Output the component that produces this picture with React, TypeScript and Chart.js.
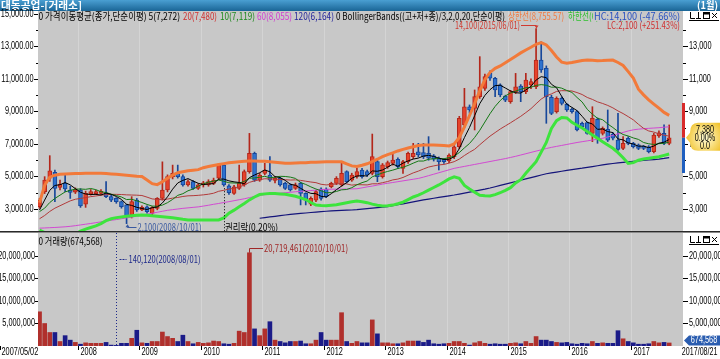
import React, { useEffect, useRef } from 'react';
import { Chart, registerables } from 'chart.js';

Chart.register(...registerables);

// ---------------- data (monthly, 2007/05 .. 2017/08) ----------------
const firstDate = '2007/05/02';
const lastDate = '2017/08/21';
const yearLabels = ['2008', '2009', '2010', '2011', '2012', '2013', '2014', '2015', '2016', '2017'];
const yearFirstIndex = [8, 20, 32, 44, 56, 68, 80, 92, 104, 116];

const open = [
  3150, 4070, 4890, 5250, 4330, 4580, 4170, 4030, 4170, 3300,
  3920, 3950, 3960, 4000, 3760, 3650, 3450, 3250, 2630, 3550,
  2950, 3140, 2730, 3040, 3650, 4170, 4990, 5230, 4990, 4480,
  4680, 4270, 4480, 4480, 4580, 4890, 5700, 4430, 3960, 4270,
  4480, 5300, 6420, 4780, 5190, 5090, 4750, 4890, 4580, 4480,
  4270, 4580, 3960, 3300, 3550, 4220, 4220, 4370, 4580, 4480,
  5300, 4780, 5000, 5400, 5300, 5190, 5910, 4990, 5600, 5800,
  6060, 5500, 5910, 6220, 6520, 6470, 6420, 6270, 6120, 6060,
  5960, 6220, 6830, 8170, 9290, 9190, 9910, 10420, 11340, 11040,
  10630, 9950, 9600, 10220, 10560, 10220, 10630, 10520, 12160, 11650,
  9870, 8990, 9810, 9440, 9130, 8990, 8270, 8310, 7650, 8510,
  7650, 7900, 7610, 7240, 6730, 7350, 7040, 6940, 6830, 6830,
  6530, 7490, 7650, 7040,
];
const high = [
  3650, 4990, 6280, 5400, 4780, 5150, 4400, 4300, 4250, 4100,
  4200, 4150, 4200, 4680, 3850, 3700, 3500, 3300, 3760, 3650,
  3200, 3200, 3150, 3700, 5900, 5100, 5700, 5700, 5100, 4800,
  4750, 4550, 4700, 4800, 4900, 5800, 5800, 4500, 4450, 5700,
  5400, 7650, 6500, 5200, 5810, 6220, 5000, 4950, 4650, 4550,
  4600, 4650, 4000, 3750, 4150, 4300, 4300, 4650, 4990, 5900,
  5350, 5200, 5500, 5500, 5400, 7610, 6000, 5800, 5950, 6420,
  6150, 6000, 6500, 7040, 7040, 7040, 7450, 6350, 6200, 6100,
  6400, 6900, 8700, 10420, 9400, 10320, 12370, 11300, 11500, 11100,
  10700, 10000, 10300, 11340, 10650, 11340, 11000, 14100, 13290, 11800,
  10000, 9900, 9900, 9500, 9200, 9050, 8350, 8350, 9290, 8600,
  8050, 9090, 7700, 8880, 7450, 7450, 7100, 7000, 6900, 6900,
  7650, 7800, 8170, 8170,
];
const low = [
  3050, 3950, 4700, 3450, 4170, 4070, 3650, 3950, 3100, 3100,
  3850, 3900, 3900, 3700, 3450, 3350, 3050, 2100, 2450, 2850,
  2900, 2750, 2650, 2950, 3550, 4050, 4850, 4900, 4400, 4400,
  4200, 4200, 4350, 4400, 4500, 4800, 4400, 3900, 3900, 4200,
  4400, 5200, 4700, 4700, 5100, 4700, 4600, 4400, 4200, 4100,
  4200, 3250, 3250, 3200, 3450, 3550, 3700, 4300, 4500, 4400,
  4600, 4700, 4900, 4900, 5000, 5100, 4680, 4900, 5500, 5700,
  5500, 5190, 5800, 6100, 6200, 6100, 6000, 5950, 5400, 5800,
  5850, 6100, 6700, 8000, 8900, 7860, 9800, 10300, 10900, 9910,
  9900, 9600, 9500, 10100, 9600, 10100, 10400, 10400, 11400, 8270,
  8800, 8900, 9400, 9000, 8900, 7800, 7950, 7600, 7140, 7040,
  7550, 7150, 7250, 6600, 6650, 6950, 6750, 6650, 6650, 6450,
  6450, 7400, 6950, 6950,
];
const close = [
  3550, 4780, 5340, 4270, 4520, 4230, 4020, 4200, 3190, 3960,
  4070, 4070, 4030, 3760, 3550, 3450, 3140, 2530, 3450, 2940,
  3100, 2840, 3080, 3650, 4170, 4990, 5190, 4990, 4480, 4680,
  4270, 4480, 4580, 4680, 4780, 5700, 4480, 4000, 4370, 4580,
  5300, 6420, 4780, 5090, 5400, 4780, 4890, 4480, 4270, 4170,
  4480, 3960, 3550, 3650, 4070, 3650, 3760, 4580, 4890, 5190,
  4680, 5090, 5300, 4990, 5090, 6220, 4990, 5710, 5850, 6010,
  5600, 5910, 6420, 6420, 6320, 6220, 6120, 6060, 5910, 5910,
  6320, 6830, 8580, 9290, 9100, 9910, 10520, 11140, 11040, 10320,
  10010, 9700, 10220, 10520, 10220, 10930, 10830, 12160, 11550, 9910,
  8880, 9810, 9500, 9090, 8990, 7860, 8060, 7650, 8580, 7350,
  7960, 7240, 7350, 6670, 7040, 7040, 6830, 6730, 6730, 6530,
  7550, 7690, 7040, 7380,
];
const volume = [
  7600000, 5000000, 3000000, 3000000, 1000000, 2300000, 1300000, 800000, 400000, 700000,
  600000, 600000, 600000, 800000, 200000, 140120, 600000, 600000, 1700000, 3500000,
  700000, 600000, 1000000, 1000000, 3100000, 2100000, 1700000, 1000000, 2400000, 1000000,
  500000, 800000, 600000, 700000, 1100000, 1000000, 500000, 400000, 600000, 3300000,
  3000000, 20719461, 3800000, 2300000, 3800000, 5400000, 1300000, 1000000, 700000, 1000000,
  1000000, 1100000, 500000, 500000, 1300000, 3000000, 1300000, 1300000, 1300000, 7400000,
  1000000, 600000, 1000000, 700000, 700000, 5800000, 2700000, 700000, 700000, 500000,
  500000, 700000, 1100000, 1100000, 1100000, 800000, 1300000, 500000, 400000, 500000,
  600000, 1000000, 1000000, 600000, 200000, 700000, 1000000, 600000, 400000, 500000,
  400000, 400000, 600000, 700000, 500000, 1000000, 600000, 2100000, 1300000, 1300000,
  1000000, 800000, 700000, 800000, 500000, 400000, 600000, 500000, 1000000, 600000,
  700000, 600000, 600000, 3400000, 1600000, 1000000, 700000, 400000, 400000, 500000,
  1000000, 700000, 800000, 674568,
];
const ma5 = [
  2940, 3550, 4150, 4450, 4490, 4630, 4480, 4250, 4030, 3920,
  3890, 3900, 3860, 3980, 3900, 3770, 3590, 3290, 3220, 3100,
  3030, 2970, 3080, 3120, 3370, 3750, 4220, 4600, 4760, 4870,
  4720, 4580, 4500, 4540, 4560, 4840, 4840, 4730, 4670, 4630,
  4550, 4930, 5090, 5230, 5400, 5290, 4990, 4930, 4760, 4520,
  4460, 4270, 4090, 3960, 3940, 3780, 3740, 3940, 4190, 4410,
  4620, 4890, 5030, 5050, 5030, 5340, 5320, 5400, 5570, 5760,
  5630, 5820, 5960, 6070, 6130, 6260, 6300, 6230, 6130, 6040,
  6060, 6210, 6710, 7390, 8020, 8740, 9480, 9990, 10340, 10590,
  10610, 10440, 10260, 10150, 10130, 10320, 10540, 10930, 11140, 11080,
  10670, 10460, 9930, 9440, 9250, 9050, 8700, 8330, 8230, 7900,
  7920, 7760, 7700, 7310, 7250, 7070, 6990, 6860, 6870, 6770,
  6870, 7050, 7110, 7272,
];
const ma10 = [
  2840, 3050, 3400, 3650, 3850, 4050, 4150, 4220, 4230, 4210,
  4260, 4190, 4060, 4010, 3910, 3830, 3740, 3580, 3600, 3500,
  3400, 3280, 3180, 3170, 3240, 3390, 3590, 3840, 3940, 4120,
  4230, 4400, 4550, 4650, 4710, 4780, 4710, 4610, 4600, 4590,
  4700, 4890, 4910, 4950, 5010, 4920, 4960, 5010, 5000, 4960,
  4880, 4630, 4510, 4360, 4230, 4120, 4000, 4010, 4080, 4180,
  4200, 4310, 4490, 4620, 4720, 4980, 5100, 5220, 5310, 5390,
  5490, 5570, 5680, 5820, 5950, 5950, 6060, 6090, 6100, 6090,
  6160, 6250, 6470, 6760, 7030, 7400, 7840, 8350, 8860, 9310,
  9670, 9960, 10130, 10250, 10360, 10460, 10490, 10600, 10650, 10610,
  10490, 10500, 10430, 10290, 10170, 9860, 9580, 9130, 8830, 8580,
  8490, 8230, 8010, 7770, 7580, 7490, 7370, 7280, 7090, 7010,
  6970, 7020, 7040, 7119,
];
const ma20 = [
  2400, 2600, 2850, 3050, 3200, 3350, 3500, 3600, 3650, 3700,
  3760, 3800, 3850, 3880, 3900, 3900, 3890, 3870, 3860, 3850,
  3830, 3730, 3620, 3590, 3570, 3610, 3670, 3710, 3770, 3810,
  3820, 3840, 3870, 3910, 3970, 4090, 4150, 4230, 4270, 4360,
  4470, 4640, 4730, 4800, 4860, 4850, 4840, 4810, 4800, 4780,
  4790, 4760, 4710, 4660, 4620, 4520, 4480, 4510, 4540, 4570,
  4540, 4470, 4500, 4490, 4480, 4550, 4550, 4620, 4690, 4790,
  4840, 4940, 5080, 5220, 5330, 5460, 5580, 5650, 5710, 5740,
  5820, 5910, 6070, 6290, 6490, 6670, 6950, 7220, 7480, 7700,
  7920, 8110, 8300, 8500, 8700, 8930, 9170, 9470, 9760, 9960,
  10080, 10230, 10280, 10270, 10260, 10160, 10040, 9860, 9740, 9590,
  9490, 9370, 9220, 9030, 8870, 8680, 8480, 8210, 7960, 7800,
  7730, 7620, 7540, 7480,
];
const ma60 = [
  1820, 1835, 1850, 1865, 1885, 1905, 1935, 1975, 2020, 2065,
  2110, 2160, 2210, 2260, 2305, 2350, 2400, 2450, 2500, 2560,
  2620, 2680, 2740, 2800, 2860, 2920, 2960, 3000, 3040, 3070,
  3100, 3130, 3180, 3230, 3290, 3340, 3400, 3450, 3510, 3570,
  3630, 3700, 3770, 3840, 3880, 3910, 3940, 3970, 4000, 4030,
  4060, 4085, 4110, 4135, 4160, 4185, 4210, 4215, 4220, 4225,
  4230, 4235, 4245, 4300, 4360, 4410, 4470, 4530, 4580, 4630,
  4680, 4730, 4780, 4830, 4880, 4960, 5050, 5140, 5230, 5320,
  5410, 5500, 5560, 5620, 5680, 5740, 5800, 5860, 5920, 5980,
  6040, 6100, 6170, 6240, 6320, 6400, 6480, 6560, 6640, 6720,
  6790, 6850, 6910, 6970, 7030, 7090, 7140, 7190, 7240, 7290,
  7350, 7430, 7530, 7620, 7710, 7800, 7870, 7910, 7940, 7960,
  7980, 8000, 8030, 8055,
];
const ma120Start = 43;
const ma120 = [
  2430, 2470, 2510, 2550, 2590, 2630, 2665,
  2695, 2725, 2755, 2785, 2810, 2835, 2860, 2880, 2895, 2910,
  2925, 2940, 2960, 2990, 3020, 3050, 3080, 3110, 3140, 3200,
  3260, 3320, 3380, 3440, 3500, 3560, 3610, 3660, 3710, 3760,
  3810, 3860, 3920, 3980, 4040, 4100, 4160, 4220, 4290, 4370,
  4450, 4530, 4610, 4690, 4770, 4850, 4930, 5010, 5090, 5170,
  5220, 5270, 5320, 5370, 5420, 5470, 5510, 5560, 5610, 5660,
  5710, 5760, 5800, 5840, 5870, 5900, 5930, 5960, 5990, 6015,
  6040, 6070, 6110, 6164,
];
const bbUpper = [
  3390, 4460, 4960, 5080, 5130, 5150, 5170, 5180, 5190, 5200,
  5200, 5200, 5195, 5180, 5160, 5140, 5110, 5080, 5050, 5020,
  5000, 4780, 4560, 4500, 4680, 4890, 5080, 5230, 5290, 5355,
  5390, 5420, 5540, 5610, 5680, 5740, 5790, 5840, 5880, 5910,
  5930, 5950, 5950, 5940, 5930, 5910, 5880, 5850, 5820, 5810,
  5830, 5840, 5850, 5870, 5880, 5895, 5905, 5910, 5910, 5900,
  5780, 5650, 5610, 5690, 5780, 5920, 6060, 6216, 6340, 6450,
  6570, 6670, 6750, 6830, 6910, 6936, 6936, 6936, 6920, 6900,
  6880, 7000, 7400, 8050, 8750, 9480, 10270, 10950, 11400, 11650,
  11800, 12000, 12200, 12400, 12600, 12780, 12950, 13130, 13230, 13090,
  12750, 12350, 12030, 11960, 12010, 12070, 12130, 12170, 12150, 12125,
  12130, 12150, 12160, 12010, 11830, 11450, 11050, 10370, 10020, 9710,
  9450, 9200, 8940, 8756,
];
const bbLower = [
  1700, 1550, 1400, 1300, 1250, 1250, 1300, 1450, 1640, 1760,
  1860, 1960, 2100, 2280, 2400, 2470, 2510, 2550, 2590, 2615,
  2630, 2610, 2580, 2550, 2520, 2490, 2460, 2420, 2370, 2330,
  2325, 2325, 2325, 2325, 2325, 2325, 2450, 2740, 2930, 3140,
  3340, 3560, 3740, 3890, 3930, 3960, 3950, 3930, 3910, 3850,
  3780, 3680, 3580, 3400, 3246, 3220, 3203, 3230, 3260, 3320,
  3380, 3440, 3490, 3450, 3390, 3300, 3230, 3185, 3200, 3240,
  3320, 3420, 3580, 3740, 3850, 4000, 4160, 4320, 4480, 4660,
  4850, 4980, 4888, 4450, 4230, 4030, 3850, 3820, 3800, 3880,
  4000, 4150, 4310, 4600, 4800, 5196, 5550, 5909, 6500, 7090,
  7950, 8430, 8630, 8600, 8330, 8150, 7980, 7770, 7551, 7350,
  7139, 6940, 6733, 6470, 6150, 5800, 5850, 6000, 6070, 6118,
  6170, 6216, 6300, 6383,
];

const priceTicks = [3000, 5000, 7000, 9000, 11000, 13000, 15000];
const priceMinorTicks = [4000, 6000, 8000, 10000, 12000, 14000];
const volumeTicks = [5000000, 10000000, 15000000, 20000000];
const lastPrice = 7380;
const rangeHigh = 9520;
const rangeLow = 5215;
const lowMarkIndex = 17;
const lowMarkValue = 2100;
const highMarkIndex = 97;
const highMarkValue = 14100;
const rightsIndex = 36;
const minVolIndex = 15;
const maxVolIndex = 41;

// ---------------- layout / style ----------------
const W = 720;
const PRICE_H = 232;
const VOL_H = 127;
const PANE_BG = '#c8c8c8';
const GRID = '#d4d4d4';
const KR = "'Noto Sans CJK KR', 'Noto Sans', sans-serif";
const NUM = "'Liberation Sans', Arial, sans-serif";
const NUM_SX = 0.7;
const UP_FILL = '#e6432b';
const UP_LINE = '#b3261a';
const DN_FILL = '#2e72cf';
const DN_LINE = '#17479a';
const VOL_UP = '#b0302c';
const VOL_DN = '#1b1b88';

const X_MIN = -0.3;
const X_MAX = 125.7;
const P_MIN = 1647;
const P_MAX = 15177;
const V_MAX = 25110000;

const fmt = (v: number, d: number) =>
  v.toLocaleString('en-US', { minimumFractionDigits: d, maximumFractionDigits: d });

function txt(ctx: any, s: string, x: number, y: number, o: any = {}) {
  const size = o.size ?? 10;
  ctx.save();
  ctx.font = `${o.bold ? 'bold ' : ''}${size}px ${o.font ?? NUM}`;
  const w = ctx.measureText(s).width;
  const sx = o.width ? o.width / w : (o.sx ?? 1);
  const dw = w * sx;
  let left = x;
  if (o.align === 'right') left = x - dw;
  else if (o.align === 'center') left = x - dw / 2;
  if (o.bg) {
    ctx.fillStyle = o.bg;
    ctx.fillRect(left - 1, y - 5, dw + 2, 10);
  }
  ctx.translate(left, y);
  ctx.scale(sx, 1);
  ctx.fillStyle = o.color ?? '#000';
  ctx.textAlign = 'left';
  ctx.textBaseline = 'middle';
  ctx.fillText(s, 0, 0);
  ctx.restore();
  return left + dw;
}
function hline(ctx: any, x1: number, x2: number, y: number) {
  ctx.beginPath(); ctx.moveTo(x1, y); ctx.lineTo(x2, y); ctx.stroke();
}
function vline(ctx: any, x: number, y1: number, y2: number) {
  ctx.beginPath(); ctx.moveTo(x, y1); ctx.lineTo(x, y2); ctx.stroke();
}
function drawIcons(ctx: any, top: number) {
  ctx.save();
  ctx.strokeStyle = '#000';
  ctx.fillStyle = '#000';
  ctx.lineWidth = 1;
  ctx.beginPath();
  ctx.moveTo(690.5, top); ctx.lineTo(690.5, top + 6.5); ctx.lineTo(695, top + 6.5);
  ctx.moveTo(698.5, top); ctx.lineTo(698.5, top + 6.5);
  ctx.moveTo(696, top + 6.5); ctx.lineTo(701, top + 6.5);
  ctx.stroke();
  ctx.strokeRect(703.5, top + 0.5, 6, 6);
  ctx.fillRect(703.5, top + 0.5, 6, 2);
  ctx.beginPath();
  ctx.moveTo(712, top + 1); ctx.lineTo(717, top + 6);
  ctx.moveTo(717, top + 1); ctx.lineTo(712, top + 6);
  ctx.stroke();
  ctx.beginPath(); ctx.moveTo(689, top + 8.5); ctx.lineTo(719, top + 8.5); ctx.stroke();
  ctx.restore();
}
function paneBackground(chart: any) {
  const { ctx, chartArea: a } = chart;
  const xs = chart.scales.x;
  ctx.save();
  ctx.fillStyle = '#ffffff';
  ctx.fillRect(0, 0, chart.width, chart.height);
  ctx.fillStyle = PANE_BG;
  ctx.fillRect(a.left, a.top, a.right - a.left, a.bottom - a.top);
  ctx.strokeStyle = GRID;
  ctx.lineWidth = 1;
  for (const fi of yearFirstIndex) {
    const px = Math.round(xs.getPixelForValue(fi - 0.5)) + 0.5;
    vline(ctx, px, a.top, a.bottom);
  }
  ctx.restore();
}

const pricePlugin = {
  id: 'pricePane',
  beforeDraw(chart: any) { paneBackground(chart); },
  afterDraw(chart: any) {
    const { ctx, chartArea: a } = chart;
    const xs = chart.scales.x;
    const ys = chart.scales.y;
    const X = (i: number) => xs.getPixelForValue(i);
    const Y = (v: number) => ys.getPixelForValue(v);
    ctx.save();
    // title bar
    const g = ctx.createLinearGradient(0, 0, 0, 11);
    g.addColorStop(0, '#4a9fd2');
    g.addColorStop(1, '#1a6596');
    ctx.fillStyle = g;
    ctx.fillRect(0, 0, W, 11);
    txt(ctx, '대동공업-[거래소]', 1, 5.5, { font: KR, bold: true, size: 10, color: '#ffffff', width: 81 });
    txt(ctx, '(1월)', 718, 5.5, { font: KR, bold: true, size: 10, color: '#ffffff', align: 'right', width: 21 });

    // axes
    ctx.strokeStyle = '#000';
    ctx.lineWidth = 1;
    for (const v of priceTicks) {
      const y = Math.round(Y(v)) + 0.5;
      hline(ctx, 34, 38, y);
      txt(ctx, fmt(v, 2), 33.5, y, { align: 'right', size: 10.5, sx: NUM_SX });
      if (v <= 13000) {
        hline(ctx, 683, 688, y);
        txt(ctx, fmt(v, 0), 689, y, { size: 10.5, sx: NUM_SX });
      }
    }
    for (const v of priceMinorTicks) {
      const y = Math.round(Y(v)) + 0.5;
      hline(ctx, 36, 38, y);
      hline(ctx, 683, 686, y);
    }

    // legend rows
    const r1 = 16;
    txt(ctx, '0 가격이동평균(종가,단순이평) 5(7,272)', 38.5, r1, { font: KR, width: 141.5 });
    txt(ctx, '20(7,480)', 183, r1, { font: KR, width: 34, color: '#d03030' });
    txt(ctx, '10(7,119)', 220, r1, { font: KR, width: 35, color: '#1f8a1f' });
    txt(ctx, '60(8,055)', 257, r1, { font: KR, width: 35, color: '#d040d0' });
    txt(ctx, '120(6,164)', 294, r1, { font: KR, width: 40, color: '#24249a' });
    txt(ctx, '0 BollingerBands((고+저+종)/3,2,0,20,단순이평)', 336, r1, { font: KR, width: 169 });
    txt(ctx, '상한선(8,755.57)', 508, r1, { font: KR, width: 56, color: '#f07a40' });
    txt(ctx, '하한선(6,383.56)', 568, r1, { font: KR, width: 56, color: '#2fc02f' });
    txt(ctx, 'HC:14,100 (-47.66%)', 680, r1, { font: KR, width: 86, align: 'right', color: '#2850c0', bg: PANE_BG });
    txt(ctx, 'LC:2,100 (+251.43%)', 680, 25.5, { font: KR, width: 73, align: 'right', color: '#d03030' });

    // high annotation
    const hx = Math.round(X(highMarkIndex)) + 0.5;
    const hy = Y(highMarkValue);
    const hEnd = txt(ctx, '14,100(2015/06/01)', 455, 25.5, { font: KR, width: 65, color: '#d03a30' });
    ctx.strokeStyle = '#d03a30';
    ctx.fillStyle = '#d03a30';
    hline(ctx, hEnd + 1, hx, 25.5);
    ctx.beginPath(); ctx.moveTo(hx - 2, hy - 3); ctx.lineTo(hx + 2, hy - 3); ctx.lineTo(hx, hy); ctx.closePath(); ctx.fill();

    // low annotation
    const lx = Math.round(X(lowMarkIndex)) + 0.5;
    const ly = Y(lowMarkValue);
    ctx.strokeStyle = '#3a5aa0';
    ctx.fillStyle = '#3a5aa0';
    vline(ctx, lx, ly + 2, 227.5);
    hline(ctx, lx, lx + 9, 227.5);
    ctx.beginPath(); ctx.moveTo(lx, ly + 0.5); ctx.lineTo(lx - 2, ly + 3.5); ctx.lineTo(lx + 2, ly + 3.5); ctx.closePath(); ctx.fill();
    txt(ctx, '2,100(2008/10/01)', lx + 10, 227, { font: KR, width: 64, color: '#3a5aa0' });

    // rights-off marker
    const rx = Math.round(X(rightsIndex)) + 0.5;
    ctx.strokeStyle = '#000';
    ctx.setLineDash([1, 2]);
    vline(ctx, rx, Y(low[rightsIndex]) + 2, a.bottom);
    ctx.setLineDash([]);
    txt(ctx, '권리락(0.20%)', rx + 0.5, 227.5, { font: KR, width: 53 });

    // right side range bar & price box
    const py = Y(lastPrice);
    ctx.fillStyle = '#d82a2a';
    ctx.fillRect(682, Y(rangeHigh), 3, py - Y(rangeHigh));
    ctx.fillStyle = '#1f5fc0';
    ctx.fillRect(682, py, 3, Y(rangeLow) - py);
    const rg = ctx.createRadialGradient(705, py, 2, 705, py, 20);
    rg.addColorStop(0, '#fff7c8');
    rg.addColorStop(1, '#f0c22c');
    ctx.fillStyle = rg;
    ctx.beginPath();
    ctx.moveTo(686, py);
    ctx.lineTo(690, py - 5);
    ctx.quadraticCurveTo(690, py - 15, 698, py - 15);
    ctx.lineTo(721, py - 15);
    ctx.lineTo(721, py + 13);
    ctx.lineTo(698, py + 13);
    ctx.quadraticCurveTo(690, py + 13, 690, py + 5);
    ctx.closePath();
    ctx.fill();
    txt(ctx, fmt(lastPrice, 0), 705, py - 8, { align: 'center', size: 10, sx: 0.72 });
    txt(ctx, '0.00%', 705, py, { align: 'center', size: 10, sx: 0.72 });
    txt(ctx, '0.0', 705, py + 8, { align: 'center', size: 10, sx: 0.72 });

    drawIcons(ctx, 12);

    // pane separator
    ctx.fillStyle = '#2a2a2a';
    ctx.fillRect(0, 231, W, 1);
    ctx.restore();
  },
};

const volumePlugin = {
  id: 'volumePane',
  beforeDraw(chart: any) { paneBackground(chart); },
  afterDraw(chart: any) {
    const { ctx, chartArea: a } = chart;
    const xs = chart.scales.x;
    const ys = chart.scales.y;
    const X = (i: number) => xs.getPixelForValue(i);
    const Y = (v: number) => ys.getPixelForValue(v);
    ctx.save();
    ctx.fillStyle = '#8a8a8a';
    ctx.fillRect(0, 0, W, 1);
    txt(ctx, '0 거래량(674,568)', 38.5, 9, { font: KR, width: 64 });

    ctx.strokeStyle = '#000';
    ctx.lineWidth = 1;
    for (const v of volumeTicks) {
      const y = Math.round(Y(v)) + 0.5;
      hline(ctx, 35, 38, y);
      txt(ctx, fmt(v, 0), 35, y, { align: 'right', size: 10.5, sx: NUM_SX });
      hline(ctx, 683, 688, y);
      txt(ctx, fmt(v, 0), 689, y, { size: 10.5, sx: NUM_SX });
    }

    // x axis
    const ly = 120.5;
    yearFirstIndex.forEach((fi, k) => {
      const px = Math.round(X(fi - 0.5)) + 0.5;
      vline(ctx, px, a.bottom, a.bottom + 4);
      txt(ctx, yearLabels[k], px + 2, ly, { size: 10.5, sx: NUM_SX });
    });
    vline(ctx, 0.5, a.bottom, a.bottom + 4);
    txt(ctx, firstDate, 1.5, ly, { size: 10.5, sx: NUM_SX });
    txt(ctx, lastDate, 717.5, ly, { size: 10.5, sx: 0.68, align: 'right' });

    // min volume marker
    const mx = Math.round(X(minVolIndex)) + 0.5;
    ctx.strokeStyle = '#1e2a8a';
    ctx.setLineDash([1, 2]);
    vline(ctx, mx, a.top, a.bottom);
    ctx.setLineDash([2, 1]);
    hline(ctx, mx + 3, mx + 10, 27.5);
    ctx.setLineDash([]);
    txt(ctx, '140,120(2008/08/01)', mx + 12, 27.5, { font: KR, width: 72, color: '#1e2a8a' });

    // max volume marker
    const bx = Math.round(X(maxVolIndex)) + 0.5;
    const by = Y(volume[maxVolIndex]);
    ctx.strokeStyle = '#a02828';
    vline(ctx, bx, by, 16.5);
    hline(ctx, bx, 263, 16.5);
    txt(ctx, '20,719,461(2010/10/01)', 264, 16.5, { font: KR, width: 84, color: '#a02828' });

    // last volume box
    const vy = 108.5;
    ctx.fillStyle = '#2a5db0';
    ctx.beginPath();
    ctx.moveTo(684, vy);
    ctx.lineTo(689, vy - 5);
    ctx.lineTo(721, vy - 5);
    ctx.lineTo(721, vy + 5);
    ctx.lineTo(689, vy + 5);
    ctx.closePath();
    ctx.fill();
    txt(ctx, fmt(volume[volume.length - 1], 0), 704, vy, { align: 'center', size: 10.5, sx: 0.7, color: '#ffffff' });

    drawIcons(ctx, 4);
    ctx.restore();
  },
};

const idx = close.map((_, i) => i);
const isUp = idx.map((i) => close[i] >= open[i]);
const pts = (arr: number[], start = 0) => arr.map((v, k) => ({ x: k + start, y: v }));

const lineDs = (label: string, data: any[], color: string, width: number, order: number) => ({
  type: 'line', label, data, borderColor: color, borderWidth: width, pointRadius: 0,
  tension: 0, order, clip: 0, fill: false,
});

const xScale = { type: 'linear', min: X_MIN, max: X_MAX, display: false, offset: false };

function priceConfig(): any {
  return {
    type: 'bar',
    data: {
      datasets: [
        lineDs('상한선', pts(bbUpper), '#f27a3a', 3, 1),
        lineDs('하한선', pts(bbLower), '#3de43d', 3, 2),
        lineDs('5', pts(ma5), '#000000', 1, 3),
        lineDs('10', pts(ma10), '#147814', 1, 4),
        lineDs('20', pts(ma20), '#b23a3a', 1, 5),
        lineDs('60', pts(ma60), '#d24ad2', 1, 6),
        lineDs('120', pts(ma120, ma120Start), '#14147a', 1.2, 7),
        {
          type: 'bar', label: 'body', stack: 'candle', order: 20,
          data: idx.map((i) => ({ x: i, y: [open[i], close[i]] })),
          backgroundColor: isUp.map((u) => (u ? UP_FILL : DN_FILL)),
          borderColor: isUp.map((u) => (u ? UP_LINE : DN_LINE)),
          borderWidth: 1, borderSkipped: false, barThickness: 4, minBarLength: 2,
        },
        {
          type: 'bar', label: 'wick', stack: 'candle', order: 21,
          data: idx.map((i) => ({ x: i, y: [low[i], high[i]] })),
          backgroundColor: isUp.map((u) => (u ? UP_LINE : DN_LINE)),
          borderWidth: 0, barThickness: 1,
        },
      ],
    },
    options: {
      responsive: false,
      animation: false,
      events: [],
      layout: { padding: { left: 38, right: 37, top: 11, bottom: 1 } },
      plugins: { legend: { display: false }, tooltip: { enabled: false } },
      scales: {
        x: xScale,
        y: { type: 'linear', min: P_MIN, max: P_MAX, display: false, stacked: false },
      },
    },
    plugins: [pricePlugin],
  };
}

function volumeConfig(): any {
  return {
    type: 'bar',
    data: {
      datasets: [
        {
          label: '거래량',
          data: idx.map((i) => ({ x: i, y: volume[i] })),
          backgroundColor: isUp.map((u) => (u ? VOL_UP : VOL_DN)),
          borderWidth: 0, barThickness: 4,
        },
      ],
    },
    options: {
      responsive: false,
      animation: false,
      events: [],
      layout: { padding: { left: 38, right: 37, top: 1, bottom: 13 } },
      plugins: { legend: { display: false }, tooltip: { enabled: false } },
      scales: {
        x: xScale,
        y: { type: 'linear', min: 0, max: V_MAX, display: false },
      },
    },
    plugins: [volumePlugin],
  };
}

export default function App() {
  const priceRef = useRef<HTMLCanvasElement>(null);
  const volRef = useRef<HTMLCanvasElement>(null);
  useEffect(() => {
    document.body.style.margin = '0';
    const c1 = new Chart(priceRef.current as any, priceConfig());
    const c2 = new Chart(volRef.current as any, volumeConfig());
    return () => {
      c1.destroy();
      c2.destroy();
    };
  }, []);
  return (
    <div style={{ position: 'relative', width: W, height: PRICE_H + VOL_H, background: '#fff', overflow: 'hidden' }}>
      <canvas ref={priceRef} width={W} height={PRICE_H} style={{ position: 'absolute', left: 0, top: 0 }} />
      <canvas ref={volRef} width={W} height={VOL_H} style={{ position: 'absolute', left: 0, top: PRICE_H }} />
    </div>
  );
}
